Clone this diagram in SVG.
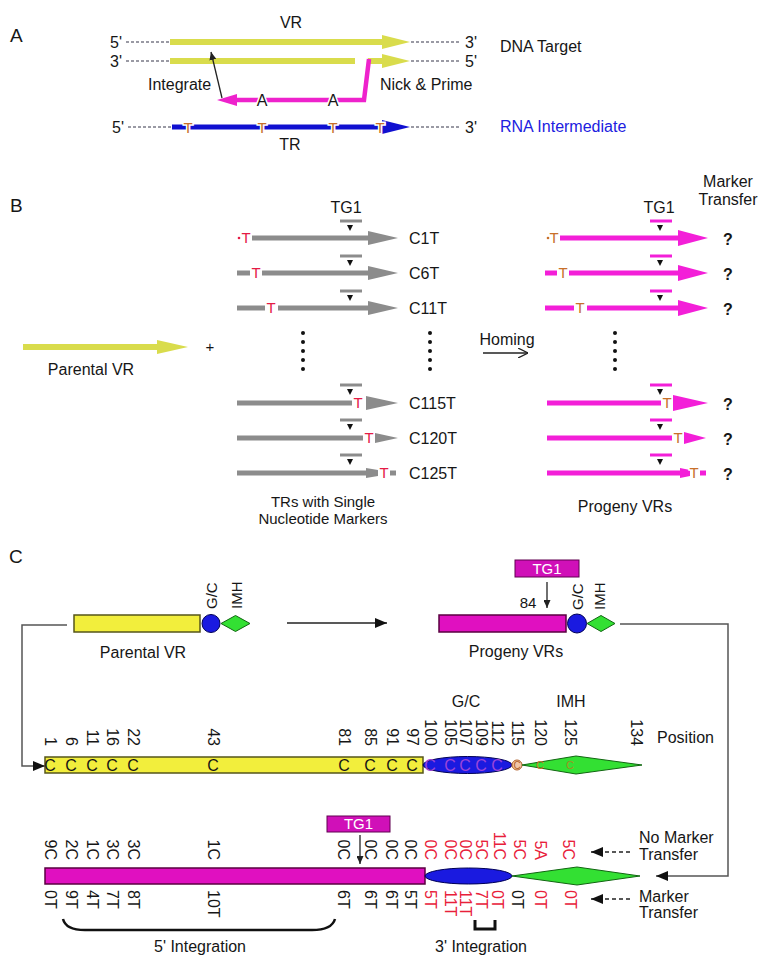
<svg xmlns="http://www.w3.org/2000/svg" width="771" height="974" viewBox="0 0 771 974">
<defs>
<style>
text{font-family:"Liberation Sans",Arial,Helvetica,sans-serif;fill:#161616;font-size:16px}
.f15{font-size:15px}
.lab{font-size:19px}
.c{text-anchor:middle}
.dash{stroke:#7a7a86;stroke-width:1.3;stroke-dasharray:3 2;fill:none}
.yel{stroke:#d9dc4c;stroke-width:6;fill:none}
.yelh{fill:#d9dc4c}
.gry{stroke:#8c8c8c;stroke-width:5;fill:none}
.gryh{fill:#8c8c8c}
.mag{stroke:#f31fd8;stroke-width:5;fill:none}
.magh{fill:#f31fd8}
.tr{fill:#e51b45;font-size:15px;text-anchor:middle;stroke:#fff;stroke-width:3;paint-order:stroke}
.to{fill:#c8702a;font-size:15px;text-anchor:middle;stroke:#fff;stroke-width:3;paint-order:stroke}
.conn{stroke:#555;stroke-width:1.5;fill:none}
.thin{stroke:#222;stroke-width:1.3;fill:none}
.rv{font-size:15px;dominant-baseline:central}
.red{fill:#e8203a}
.q{font-weight:bold;text-anchor:middle}
.tick{stroke-width:3}
.ybar{fill:#f2ee3c;stroke:#55551a;stroke-width:1.5}
.mbar{fill:#e010c0;stroke:#5a0040;stroke-width:1.5}
.gc{fill:#1a1ae0;stroke:#000055;stroke-width:1}
.imh{fill:#33e033;stroke:#116611;stroke-width:1}
.tg{fill:#d010b8;stroke:#600050;stroke-width:1}
.tgt{fill:#fff;font-size:15px;text-anchor:middle}
.dot{fill:#111}
</style>
<marker id="ah" viewBox="0 0 12 10" refX="12" refY="5" markerWidth="12" markerHeight="10" orient="auto" markerUnits="userSpaceOnUse"><path d="M0,0 L12,5 L0,10 z" fill="#111"/></marker>
<marker id="ahs" viewBox="0 0 8 7" refX="8" refY="3.5" markerWidth="8" markerHeight="7" orient="auto" markerUnits="userSpaceOnUse"><path d="M0,0 L8,3.5 L0,7 z" fill="#222"/></marker>
<marker id="chev" viewBox="0 0 10 10" refX="10" refY="5" markerWidth="10" markerHeight="10" orient="auto" markerUnits="userSpaceOnUse"><path d="M0,0 L10,5 L0,10" fill="none" stroke="#222" stroke-width="1.3"/></marker>
</defs>
<rect width="771" height="974" fill="#fff"/>

<!-- ============ PANEL A ============ -->
<g id="panelA">
<text class="lab" x="10" y="42">A</text>
<text class="c" x="291" y="28">VR</text>
<g id="vr-top">
<text x="110" y="48">5'</text>
<line class="dash" x1="126" y1="42" x2="170" y2="42"/>
<line class="yel" x1="170" y1="42" x2="384" y2="42"/>
<polygon class="yelh" points="382,35 410,42 382,49"/>
<line class="dash" x1="411" y1="42" x2="460" y2="42"/>
<text x="465" y="48">3'</text>
</g>
<g id="vr-bottom">
<text x="110" y="67">3'</text>
<line class="dash" x1="126" y1="61" x2="170" y2="61"/>
<line class="yel" x1="170" y1="61" x2="355" y2="61"/>
<line class="yel" x1="368" y1="61" x2="384" y2="61"/>
<polygon class="yelh" points="382,54 410,61 382,68"/>
<line class="dash" x1="411" y1="61" x2="460" y2="61"/>
<text x="465" y="67">5'</text>
</g>
<text x="500" y="52">DNA Target</text>
<g id="cdna">
<polyline points="369,59 364,100 234,100" fill="none" stroke="#ee22cc" stroke-width="4.5"/>
<polygon points="237,94 217,100 237,106" fill="#ee22cc"/>
<text class="c" x="262" y="106" stroke="#fff" stroke-width="3" paint-order="stroke">A</text>
<text class="c" x="333" y="106" stroke="#fff" stroke-width="3" paint-order="stroke">A</text>
</g>
<line class="thin" x1="222" y1="98" x2="211" y2="52" marker-end="url(#ahs)"/>
<text x="148" y="90">Integrate</text>
<text x="380" y="90">Nick &amp; Prime</text>
<g id="tr-rna">
<text x="112" y="133">5'</text>
<line class="dash" x1="128" y1="127" x2="172" y2="127"/>
<line x1="172" y1="127" x2="384" y2="127" stroke="#1010d0" stroke-width="5"/>
<polygon points="382,120 410,127 382,134" fill="#1010d0"/>
<line class="dash" x1="411" y1="127" x2="460" y2="127"/>
<text x="465" y="133">3'</text>
<text class="to" x="188" y="133">T</text>
<text class="to" x="262" y="133">T</text>
<text class="to" x="333" y="133">T</text>
<text class="to" x="380" y="133">T</text>
</g>
<text x="500" y="132" style="fill:#2020e0">RNA Intermediate</text>
<text class="c" x="290" y="150">TR</text>
</g>

<!-- ============ PANEL B ============ -->
<g id="panelB">
<text class="lab" x="10" y="212">B</text>
<text class="c" x="346" y="213">TG1</text>
<text class="c" x="659" y="213">TG1</text>
<text class="c" x="728" y="187">Marker</text>
<text class="c" x="728" y="205">Transfer</text>

<g id="parental-vr-b">
<line class="yel" x1="23" y1="347" x2="160" y2="347"/>
<polygon class="yelh" points="157,340 188,347 157,354"/>
<text class="c" x="91" y="375">Parental VR</text>
</g>
<text class="c f15" x="210" y="352">+</text>

<!-- grey TR rows -->
<g id="tr-c1t">
<line class="gry tick" x1="340" y1="221" x2="362" y2="221"/>
<polygon class="dot" points="347,225 353,225 350,231"/>
<circle cx="239" cy="238" r="1.3" fill="#e51b45"/>
<text class="tr" x="246" y="243">T</text>
<line class="gry" x1="252" y1="238" x2="370" y2="238"/>
<polygon class="gryh" points="368,231 398,238 368,245"/>
<text x="409" y="244">C1T</text>
</g>
<g id="tr-c6t">
<line class="gry tick" x1="340" y1="256" x2="362" y2="256"/>
<polygon class="dot" points="347,260 353,260 350,266"/>
<line class="gry" x1="237" y1="273" x2="250" y2="273"/>
<line class="gry" x1="262" y1="273" x2="370" y2="273"/>
<text class="tr" x="256" y="278">T</text>
<polygon class="gryh" points="368,266 398,273 368,280"/>
<text x="409" y="279">C6T</text>
</g>
<g id="tr-c11t">
<line class="gry tick" x1="340" y1="291" x2="362" y2="291"/>
<polygon class="dot" points="347,295 353,295 350,301"/>
<line class="gry" x1="237" y1="308" x2="265" y2="308"/>
<line class="gry" x1="278" y1="308" x2="370" y2="308"/>
<text class="tr" x="271" y="313">T</text>
<polygon class="gryh" points="368,301 398,308 368,315"/>
<text x="409" y="314">C11T</text>
</g>
<g id="tr-dots">
<circle class="dot" cx="303" cy="333" r="2"/><circle class="dot" cx="303" cy="342" r="2"/><circle class="dot" cx="303" cy="351" r="2"/><circle class="dot" cx="303" cy="360" r="2"/><circle class="dot" cx="303" cy="369" r="2"/>
<circle class="dot" cx="430" cy="333" r="2"/><circle class="dot" cx="430" cy="342" r="2"/><circle class="dot" cx="430" cy="351" r="2"/><circle class="dot" cx="430" cy="360" r="2"/><circle class="dot" cx="430" cy="369" r="2"/>
</g>
<g id="tr-c115t">
<line class="gry tick" x1="340" y1="385" x2="362" y2="385"/>
<polygon class="dot" points="347,389 353,389 350,395"/>
<line class="gry" x1="237" y1="403" x2="352" y2="403"/>
<text class="tr" x="358" y="408">T</text>
<polygon class="gryh" points="366,396 398,403 366,410"/>
<text x="409" y="409">C115T</text>
</g>
<g id="tr-c120t">
<line class="gry tick" x1="340" y1="420" x2="362" y2="420"/>
<polygon class="dot" points="347,424 353,424 350,430"/>
<line class="gry" x1="237" y1="438" x2="363" y2="438"/>
<text class="tr" x="369" y="443">T</text>
<polygon class="gryh" points="375,433 398,438 375,443"/>
<text x="409" y="444">C120T</text>
</g>
<g id="tr-c125t">
<line class="gry tick" x1="340" y1="455" x2="362" y2="455"/>
<polygon class="dot" points="347,459 353,459 350,465"/>
<line class="gry" x1="237" y1="473" x2="368" y2="473"/>
<polygon class="gryh" points="366,468 378,470 378,476 366,478"/>
<text class="tr" x="384" y="478">T</text>
<line class="gry" x1="390" y1="473" x2="396" y2="473" stroke-width="2"/>
<text x="409" y="479">C125T</text>
</g>
<text class="c f15" x="323" y="507">TRs with Single</text>
<text class="c f15" x="323" y="524">Nucleotide Markers</text>

<g id="homing">
<text class="c" x="507" y="345">Homing</text>
<line x1="483" y1="353" x2="528" y2="353" stroke="#222" stroke-width="1.3" marker-end="url(#chev)"/>
</g>

<!-- magenta progeny rows -->
<g id="vr-r1">
<line class="mag tick" x1="650" y1="221" x2="672" y2="221"/>
<polygon class="dot" points="657,225 663,225 660,231"/>
<circle cx="548" cy="238" r="1.3" fill="#c8702a"/>
<text class="to" x="554" y="243">T</text>
<line class="mag" x1="560" y1="238" x2="680" y2="238"/>
<polygon class="magh" points="678,230 708,238 678,246"/>
<text class="q" x="728" y="245">?</text>
</g>
<g id="vr-r2">
<line class="mag tick" x1="650" y1="256" x2="672" y2="256"/>
<polygon class="dot" points="657,260 663,260 660,266"/>
<line class="mag" x1="545" y1="273" x2="557" y2="273"/>
<text class="to" x="563" y="278">T</text>
<line class="mag" x1="569" y1="273" x2="680" y2="273"/>
<polygon class="magh" points="678,265 708,273 678,281"/>
<text class="q" x="728" y="280">?</text>
</g>
<g id="vr-r3">
<line class="mag tick" x1="650" y1="291" x2="672" y2="291"/>
<polygon class="dot" points="657,295 663,295 660,301"/>
<line class="mag" x1="545" y1="308" x2="574" y2="308"/>
<text class="to" x="580" y="313">T</text>
<line class="mag" x1="587" y1="308" x2="680" y2="308"/>
<polygon class="magh" points="678,300 708,308 678,316"/>
<text class="q" x="728" y="315">?</text>
</g>
<g id="vr-dots">
<circle class="dot" cx="615" cy="333" r="2"/><circle class="dot" cx="615" cy="342" r="2"/><circle class="dot" cx="615" cy="351" r="2"/><circle class="dot" cx="615" cy="360" r="2"/><circle class="dot" cx="615" cy="369" r="2"/>
</g>
<g id="vr-r115">
<line class="mag tick" x1="650" y1="385" x2="672" y2="385"/>
<polygon class="dot" points="657,389 663,389 660,395"/>
<line class="mag" x1="547" y1="403" x2="661" y2="403"/>
<text class="to" x="667" y="408">T</text>
<polygon class="magh" points="673,395 708,403 673,411"/>
<text class="q" x="728" y="410">?</text>
</g>
<g id="vr-r120">
<line class="mag tick" x1="650" y1="420" x2="672" y2="420"/>
<polygon class="dot" points="657,424 663,424 660,430"/>
<line class="mag" x1="547" y1="438" x2="672" y2="438"/>
<text class="to" x="678" y="443">T</text>
<polygon class="magh" points="684,432 706,438 684,444"/>
<text class="q" x="728" y="445">?</text>
</g>
<g id="vr-r125">
<line class="mag tick" x1="650" y1="455" x2="672" y2="455"/>
<polygon class="dot" points="657,459 663,459 660,465"/>
<line class="mag" x1="547" y1="473" x2="682" y2="473"/>
<polygon class="magh" points="680,468 690,470 690,476 680,478"/>
<text class="to" x="694" y="478">T</text>
<line class="mag" x1="700" y1="473" x2="706" y2="473" stroke-width="2"/>
<text class="q" x="728" y="480">?</text>
</g>
<text class="c" x="625" y="512">Progeny VRs</text>
</g>

<!-- ============ PANEL C ============ -->
<g id="panelC">
<text class="lab" x="9" y="563">C</text>

<g id="parental-vr-c">
<rect class="ybar" x="74" y="615" width="126" height="17"/>
<circle class="gc" cx="211" cy="623.5" r="9"/>
<polygon class="imh" points="221,623.5 235.5,615.5 250,623.5 235.5,631.5"/>
<text class="rv" transform="translate(211,609) rotate(-90)">G/C</text>
<text class="rv" transform="translate(236,609) rotate(-90)">IMH</text>
<text class="c" x="143" y="658">Parental VR</text>
</g>

<g id="progeny-vr-c">
<rect class="mbar" x="439" y="615" width="127" height="17"/>
<circle class="gc" cx="577" cy="623.5" r="9.5"/>
<polygon class="imh" points="587,623.5 601,615.5 615,623.5 601,631.5"/>
<text class="rv" transform="translate(577,610) rotate(-90)">G/C</text>
<text class="rv" transform="translate(599,610) rotate(-90)">IMH</text>
<rect class="tg" x="515" y="560" width="64" height="17"/>
<text class="tgt" x="547" y="574">TG1</text>
<line class="thin" x1="547" y1="582" x2="547" y2="608" marker-end="url(#ahs)"/>
<text class="c f15" x="528" y="608">84</text>
<text class="c" x="516" y="657">Progeny VRs</text>
</g>

<g id="vr-wt">
<rect class="ybar" x="45" y="757" width="378" height="16"/>
<ellipse class="gc" cx="467.5" cy="765" rx="44.5" ry="8.5"/>
<circle cx="517" cy="765" r="5" fill="#f3c6a6" stroke="#b0602a" stroke-width="1"/>
<polygon class="imh" points="522,765 576,756 642,765 576,774"/>
<g class="rv" style="text-anchor:middle">
<text x="50" y="765">C</text><text x="71" y="765">C</text><text x="92" y="765">C</text><text x="112" y="765">C</text><text x="133" y="765">C</text><text x="213" y="765">C</text><text x="344" y="765">C</text><text x="370" y="765">C</text><text x="392" y="765">C</text><text x="412" y="765">C</text>
</g>
<g style="text-anchor:middle;dominant-baseline:central;font-size:13px">
<text x="430" y="765" style="fill:#9a44d8">C</text><text x="450" y="765" style="fill:#9a44d8">C</text><text x="465" y="765" style="fill:#9a44d8">C</text><text x="481" y="765" style="fill:#9a44d8">C</text><text x="497" y="765" style="fill:#9a44d8">C</text>
<text x="517" y="765" style="fill:#b0602a;font-size:10px">C</text>
<text x="540" y="765" style="fill:#c8702a;font-size:11px">C</text>
<text x="570" y="765" style="fill:#a09020;font-size:11px">C</text>
</g>
<text class="c" x="466" y="707">G/C</text>
<text class="c" x="571" y="707">IMH</text>
<text x="657" y="743">Position</text>
<g class="rv" style="text-anchor:end">
<text transform="translate(50,746) rotate(90)">1</text>
<text transform="translate(71,746) rotate(90)">6</text>
<text transform="translate(92,746) rotate(90)">11</text>
<text transform="translate(112,746) rotate(90)">16</text>
<text transform="translate(133,746) rotate(90)">22</text>
<text transform="translate(213,746) rotate(90)">43</text>
<text transform="translate(344,746) rotate(90)">81</text>
<text transform="translate(370,746) rotate(90)">85</text>
<text transform="translate(392,746) rotate(90)">91</text>
<text transform="translate(412,746) rotate(90)">97</text>
<text transform="translate(430,746) rotate(90)">100</text>
<text transform="translate(450,746) rotate(90)">105</text>
<text transform="translate(465,746) rotate(90)">107</text>
<text transform="translate(481,746) rotate(90)">109</text>
<text transform="translate(497,746) rotate(90)">112</text>
<text transform="translate(517,746) rotate(90)">115</text>
<text transform="translate(540,746) rotate(90)">120</text>
<text transform="translate(570,746) rotate(90)">125</text>
<text transform="translate(636,746) rotate(90)">134</text>
</g>
</g>

<g id="vr-result">
<rect class="mbar" x="45" y="868" width="380" height="16"/>
<ellipse class="gc" cx="468.5" cy="876" rx="43.5" ry="8"/>
<polygon class="imh" points="512,876 577,867 640,876 577,885"/>
<rect class="tg" x="327" y="816" width="63" height="16"/>
<text class="tgt" x="358.5" y="829">TG1</text>
<line class="thin" x1="360" y1="835" x2="360" y2="864" marker-end="url(#ahs)"/>
<g class="rv" style="text-anchor:end">
<text transform="translate(50,860) rotate(90)">9C</text>
<text transform="translate(71,860) rotate(90)">2C</text>
<text transform="translate(92,860) rotate(90)">1C</text>
<text transform="translate(112,860) rotate(90)">3C</text>
<text transform="translate(133,860) rotate(90)">3C</text>
<text transform="translate(213,860) rotate(90)">1C</text>
<text transform="translate(343,860) rotate(90)">0C</text>
<text transform="translate(370,860) rotate(90)">0C</text>
<text transform="translate(391,860) rotate(90)">0C</text>
<text transform="translate(410,860) rotate(90)">0C</text>
<text class="red" transform="translate(430,860) rotate(90)">0C</text>
<text class="red" transform="translate(450,860) rotate(90)">0C</text>
<text class="red" transform="translate(465,860) rotate(90)">0C</text>
<text class="red" transform="translate(481,860) rotate(90)">5C</text>
<text class="red" transform="translate(499,860) rotate(90)">11C</text>
<text class="red" transform="translate(519,860) rotate(90)">5C</text>
<text class="red" transform="translate(540,860) rotate(90)">5A</text>
<text class="red" transform="translate(568,860) rotate(90)">5C</text>
</g>
<g class="rv" style="text-anchor:start">
<text transform="translate(50,890) rotate(90)">0T</text>
<text transform="translate(71,890) rotate(90)">9T</text>
<text transform="translate(92,890) rotate(90)">4T</text>
<text transform="translate(112,890) rotate(90)">7T</text>
<text transform="translate(133,890) rotate(90)">8T</text>
<text transform="translate(213,890) rotate(90)">10T</text>
<text transform="translate(343,890) rotate(90)">6T</text>
<text transform="translate(370,890) rotate(90)">6T</text>
<text transform="translate(391,890) rotate(90)">6T</text>
<text transform="translate(410,890) rotate(90)">5T</text>
<text class="red" transform="translate(430,890) rotate(90)">5T</text>
<text class="red" transform="translate(450,890) rotate(90)">11T</text>
<text class="red" transform="translate(465,890) rotate(90)">11T</text>
<text class="red" transform="translate(481,890) rotate(90)">7T</text>
<text class="red" transform="translate(497,890) rotate(90)">0T</text>
<text transform="translate(517,890) rotate(90)">0T</text>
<text class="red" transform="translate(540,890) rotate(90)">0T</text>
<text class="red" transform="translate(570,890) rotate(90)">0T</text>
</g>
<path d="M63,919 C65,927 72,930 85,930 L312,930 C325,930 333,926 335,919" fill="none" stroke="#111" stroke-width="2.5"/>
<text class="c" x="200" y="952">5' Integration</text>
<path d="M475,920 L475,929 L495,929 L495,920" fill="none" stroke="#111" stroke-width="3"/>
<text class="c" x="481" y="952">3' Integration</text>
</g>

<g id="legend-no-transfer">
<line x1="630" y1="852" x2="591" y2="852" stroke="#222" stroke-width="1.3" stroke-dasharray="4 3" marker-end="url(#ah)"/>
<text x="639" y="843">No Marker</text>
<text x="639" y="860">Transfer</text>
</g>
<g id="legend-transfer">
<line x1="630" y1="899" x2="591" y2="899" stroke="#222" stroke-width="1.3" stroke-dasharray="4 3" marker-end="url(#ah)"/>
<text x="639" y="902">Marker</text>
<text x="639" y="918">Transfer</text>
</g>
</g>

<!-- ============ CONNECTORS ============ -->
<g id="connectors">
<line class="conn" x1="287" y1="623" x2="387" y2="623" marker-end="url(#ah)" style="stroke:#222"/>
<polyline class="conn" points="67,625 22,625 22,766 45,766" marker-end="url(#ah)"/>
<polyline class="conn" points="620,624 728,624 728,876 656,876" marker-end="url(#ah)"/>
</g>
</svg>
